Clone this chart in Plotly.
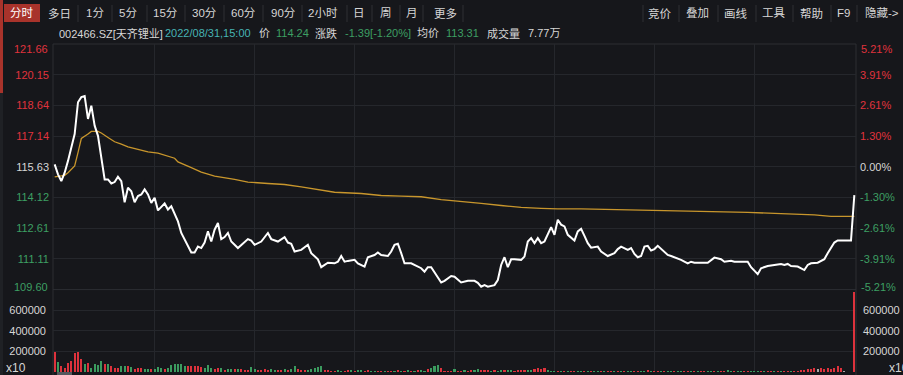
import plotly.graph_objects as go

# ---------------- data ----------------
PREV_CLOSE = 115.63
price_ticks = [109.60, 111.11, 112.61, 114.12, 115.63, 117.14, 118.64, 120.15, 121.66]
price_labels = ["109.60", "111.11", "112.61", "114.12", "115.63", "117.14", "118.64", "120.15", "121.66"]
pct_labels = ["-5.21%", "-3.91%", "-2.61%", "-1.30%", "0.00%", "1.30%", "2.61%", "3.91%", "5.21%"]
vol_ticks = [200000, 400000, 600000]
vol_labels = ["200000", "400000", "600000"]

price_min = [0, 1, 2, 3, 4, 5, 6, 7, 8, 9, 10, 11, 12, 13, 14, 15, 16, 17, 18, 19,
             20, 21, 22, 23, 24, 25, 26, 27, 28, 29, 30, 31, 33, 34, 35, 37, 38, 39, 40, 41,
             42, 43, 44, 45, 46, 47, 48, 49, 50, 51, 52, 53, 55, 56, 58, 59, 60, 62, 64, 65,
             67, 69, 70, 71, 72, 74, 76, 77, 79, 80, 82, 84, 85, 86, 87, 88, 90, 91, 93, 94,
             96, 97, 98, 100, 101, 102, 103, 104, 105, 107, 108, 109, 110, 111, 112, 113, 114, 116, 117, 119,
             120, 122, 124, 126, 127, 128, 129, 130, 132, 133, 134, 135, 136, 137, 138, 140, 141, 142, 143, 144,
             145, 146, 147, 149, 150, 151, 152, 153, 154, 156, 157, 158, 159, 160, 161, 163, 164, 166, 168, 169,
             170, 172, 173, 174, 175, 176, 177, 178, 179, 180, 181, 182, 184, 185, 187, 188, 190, 191, 192, 194,
             196, 198, 200, 201, 203, 204, 207, 208, 209, 211, 212, 214, 216, 218, 219, 220, 221, 223, 225, 226,
             227, 229, 231, 232, 234, 235, 237, 239, 240]
price_val = [115.75, 115.26, 114.93, 115.34, 115.92, 116.58, 117.24, 118.80, 119.05, 119.10,
             117.98, 118.63, 117.65, 117.15, 116.16, 115.01, 115.01, 114.81, 114.88, 115.14,
             114.93, 113.89, 114.60, 114.43, 113.89, 114.19, 114.27, 114.52, 114.27, 113.86,
             114.11, 113.49, 113.83, 113.53, 113.69, 112.95, 112.38, 112.05, 111.71, 111.42,
             111.42, 111.71, 111.64, 111.91, 112.46, 111.96, 112.54, 112.87, 112.08, 112.18,
             112.38, 111.96, 111.64, 111.80, 112.08, 112.01, 111.80, 111.96, 112.38, 112.08,
             111.96, 112.18, 111.91, 111.85, 111.47, 111.55, 111.80, 111.39, 111.09, 110.70,
             110.92, 110.89, 110.97, 111.25, 110.97, 111.01, 111.06, 110.89, 110.73, 111.19,
             111.30, 111.42, 111.30, 111.25, 111.47, 111.80, 111.85, 111.39, 110.89, 110.89,
             110.81, 110.73, 110.65, 110.48, 110.70, 110.70, 110.43, 109.95, 110.03, 110.27,
             110.23, 109.95, 110.03, 110.03, 109.93, 109.74, 109.82, 109.74, 109.82, 110.07,
             110.81, 111.19, 110.70, 111.09, 111.09, 111.06, 111.22, 111.96, 112.13, 111.88,
             112.13, 111.88, 111.96, 112.67, 112.29, 113.03, 112.79, 112.70, 112.29, 112.01,
             112.46, 112.59, 112.24, 111.88, 111.66, 111.71, 111.47, 111.25, 111.39, 111.59,
             111.71, 111.55, 111.64, 111.35, 111.19, 111.25, 111.71, 111.75, 111.52, 111.59,
             111.75, 111.59, 111.30, 111.25, 111.14, 111.06, 110.89, 110.97, 110.92, 110.92,
             110.92, 111.17, 111.09, 110.97, 111.02, 110.97, 110.97, 110.97, 110.70, 110.36,
             110.65, 110.76, 110.81, 110.86, 110.81, 110.86, 110.76, 110.73, 110.56, 110.81,
             110.89, 110.92, 111.09, 111.39, 111.91, 112.01, 112.01, 112.01, 114.24]

avg_min = [0, 3, 4, 6, 7, 8, 10, 11, 13, 14, 16, 18, 20, 22, 25, 28, 31, 34, 36, 37,
           39, 41, 44, 48, 54, 58, 64, 69, 74, 80, 84, 92, 98, 104, 110, 116, 122, 128, 134, 140,
           146, 151, 158, 167, 185, 198, 208, 218, 228, 233, 240]
avg_val = [115.14, 115.21, 115.34, 115.67, 116.33, 117.02, 117.24, 117.37, 117.37, 117.29,
           117.07, 116.86, 116.74, 116.61, 116.49, 116.36, 116.30, 116.16, 116.05, 115.87,
           115.75, 115.59, 115.37, 115.17, 115.01, 114.88, 114.81, 114.76, 114.64, 114.48,
           114.38, 114.32, 114.22, 114.19, 114.16, 114.02, 113.94, 113.83, 113.73, 113.64,
           113.59, 113.56, 113.56, 113.53, 113.48, 113.43, 113.39, 113.33, 113.27, 113.20,
           113.20]

volume = [200000, 100000, 65000, 40000, 90000, 110000, 190000, 200000, 130000, 80000,
          95000, 45000, 80000, 75000, 110000, 80000, 85000, 62000, 45000, 45000,
          62000, 62000, 62000, 50000, 30000, 40000, 40000, 30000, 30000, 30000,
          35000, 55000, 45000, 30000, 40000, 70000, 80000, 80000, 80000, 60000,
          60000, 60000, 60000, 65000, 55000, 45000, 70000, 45000, 30000, 40000,
          45000, 25000, 30000, 35000, 30000, 30000, 30000, 25000, 20000, 50000,
          35000, 25000, 25000, 30000, 25000, 35000, 25000, 20000, 20000, 30000,
          20000, 30000, 65000, 35000, 25000, 20000, 25000, 35000, 40000, 50000,
          60000, 25000, 20000, 15000, 15000, 20000, 15000, 15000, 20000, 20000,
          15000, 20000, 20000, 15000, 20000, 15000, 15000, 15000, 15000, 15000,
          15000, 12000, 15000, 20000, 15000, 15000, 20000, 15000, 15000, 25000,
          20000, 15000, 30000, 40000, 60000, 70000, 45000, 15000, 15000,
          15000, 30000, 18000, 15000, 20000, 15000, 22000, 28000, 30000, 25000, 28000, 20000,
          15000, 20000, 18000, 25000, 20000, 28000, 22000, 15000, 20000, 25000,
          28000, 25000, 20000, 35000, 40000, 30000, 38000, 25000, 15000, 12000,
          10000, 12000, 10000, 8000, 12000, 10000, 15000, 12000, 10000, 12000,
          8000, 10000, 12000, 10000, 15000, 12000, 10000, 12000, 10000, 15000,
          12000, 10000, 15000, 12000, 10000, 12000, 15000, 20000, 12000, 10000,
          15000, 12000, 10000, 12000, 10000, 18000, 12000, 10000, 15000, 12000,
          10000, 12000, 15000, 12000, 10000, 12000, 10000, 15000, 12000, 10000,
          12000, 20000, 15000, 12000, 10000, 12000, 15000, 10000, 12000, 15000,
          15000, 12000, 10000, 15000, 12000, 10000, 12000, 15000, 12000, 15000,
          12000, 10000, 15000, 20000, 25000,
          35000, 30000, 40000, 35000, 45000, 30000, 40000, 35000, 45000, 60000, 40000, 8000,
          0, 0, 780000]
# trade direction per minute: r = up, g = down, w = flat
vol_dir = ("rgrrrrrrrg" "rggggrgrrr" "ggrgrrrggr" "gggrgggggg" "rrrrrgggrr"
           "grggrgrrrg" "grrrrggrrg" "rggrrrgggg" "grrrrggrrg" "rggrrggrrg"
           "rrgrgrgrgr" "ggrgggrrr"
           "rgrrgrrggrrr" "grggrggrrrrggrrrrggg" "rgrgrrggrgrggrgrrgrg"
           "rggrrggrgrrgrggrggrr" "grgrrggrgrrggrggrrgg"
           "grgrrgrgrrgrrrrrrrwrrrrrrrw" "wwr")

# ---------------- layout helpers ----------------
W, H = 903, 375
ML, MR, MT, MB = 53, 47, 44, 3
PW = W - ML - MR
PH = H - MT - MB


def fx(px):
    return (px - ML) / PW


def fy(py):
    return (H - MB - py) / PH


SPLIT = fy(289.6)
BG = "#16171b"
GRID = "#25272c"
BORDER = "#2c2e33"
RED = "#e0333d"
GREEN = "#3d9f63"
WHITE = "#d6d6d6"
GOLD = "#c8962c"
TEAL = "#46b4b4"
FONT = "Liberation Sans, Arial, Noto Sans CJK SC, sans-serif"


def col(p):
    if p > PREV_CLOSE + 1e-9:
        return RED
    if p < PREV_CLOSE - 1e-9:
        return GREEN
    return WHITE


left_text = []
right_text = []
for p, lab, plab in zip(price_ticks, price_labels, pct_labels):
    if p in (price_ticks[0], price_ticks[-1]):
        left_text.append("")
        right_text.append("")
    else:
        left_text.append(f"<span style='color:{col(p)}'>{lab}</span>")
        right_text.append(f"<span style='color:{col(p)}'>{plab}</span>")
pct_tickvals = [(p / PREV_CLOSE - 1) * 100 for p in price_ticks]
pct_range = [(price_ticks[0] / PREV_CLOSE - 1) * 100, (price_ticks[-1] / PREV_CLOSE - 1) * 100]

dir_color = {"r": "#dd323c", "g": "#3b9b5f", "w": "#a8a8a8"}
bar_colors = [dir_color[c] for c in vol_dir]

fig = go.Figure()
fig.add_trace(go.Scatter(x=avg_min, y=avg_val, mode="lines", line=dict(color=GOLD, width=1.3),
                         xaxis="x", yaxis="y", hoverinfo="skip", showlegend=False))
fig.add_trace(go.Scatter(x=price_min, y=price_val, mode="lines", line=dict(color="#ffffff", width=2),
                         xaxis="x", yaxis="y", hoverinfo="skip", showlegend=False))
fig.add_trace(go.Scatter(x=price_min, y=[(p / PREV_CLOSE - 1) * 100 for p in price_val], mode="lines",
                         line=dict(color="rgba(0,0,0,0)", width=0), xaxis="x", yaxis="y3",
                         hoverinfo="skip", showlegend=False))
fig.add_trace(go.Bar(x=list(range(len(volume))), y=volume, marker=dict(color=bar_colors, line=dict(width=0)),
                     width=0.62, xaxis="x2", yaxis="y2", hoverinfo="skip", showlegend=False))
fig.add_trace(go.Scatter(x=list(range(len(volume))), y=volume, mode="lines",
                         line=dict(color="rgba(0,0,0,0)", width=0), xaxis="x2", yaxis="y4",
                         hoverinfo="skip", showlegend=False))

xcommon = dict(range=[-0.5, 240.5], tickvals=[30, 60, 90, 120, 150, 180, 210], showticklabels=False,
               showgrid=True, gridcolor=GRID, gridwidth=1, zeroline=False, showline=False, ticks="",
               fixedrange=True)

annotations = []


def txt(x, y, s, color=WHITE, size=11, xanchor="left"):
    annotations.append(dict(xref="paper", yref="paper", x=fx(x), y=fy(y), text=s, showarrow=False,
                            xanchor=xanchor, yanchor="middle", font=dict(color=color, size=size, family=FONT)))


# axis end labels
txt(50, 49, price_labels[-1], RED, xanchor="right")
txt(50, 287, price_labels[0], GREEN, xanchor="right")
txt(859, 49, pct_labels[-1], RED)
txt(859, 287, pct_labels[0], GREEN)
txt(4, 368, "x10", WHITE, 12)
txt(887, 368, "x10", WHITE, 12)

# toolbar
tool_left = [(22, "分时"), (59, "多日"), (95, "1分"), (128, "5分"), (165, "15分"), (204, "30分"),
             (243, "60分"), (283, "90分"), (323, "2小时"), (359, "日"), (386, "周"), (412, "月"), (445, "更多")]
tool_right = [(660, "竞价"), (697, "叠加"), (736, "画线"), (774, "工具"), (811, "帮助"), (843, "F9"), (882, "隐藏->")]
for x, s in tool_left + tool_right:
    txt(x, 13, s, "#ffffff" if s == "分时" else WHITE, 11.5, "center")

# info line
info = [(57, "002466.SZ[天齐锂业]", WHITE), (163, "2022/08/31,15:00", TEAL), (257, "价", WHITE),
        (274, "114.24", GREEN), (313, "涨跌", WHITE), (343, "-1.39[-1.20%]", GREEN), (415, "均价", WHITE),
        (444, "113.31", GREEN), (485, "成交量", WHITE), (526, "7.77万", WHITE)]
for x, s, c in info:
    txt(x, 33, s, c, 11)

shapes = []


def rect(x0, y0, x1, y1, color, layer="below"):
    shapes.append(dict(type="rect", xref="paper", yref="paper", x0=fx(x0), x1=fx(x1), y0=fy(y1), y1=fy(y0),
                       fillcolor=color, line=dict(width=0), layer=layer))


def line(x0, y0, x1, y1, color, width=1, layer="below"):
    shapes.append(dict(type="line", xref="paper", yref="paper", x0=fx(x0), x1=fx(x1), y0=fy(y0), y1=fy(y1),
                       line=dict(color=color, width=width), layer=layer))


rect(0, 0, 3, 93, "#a8332b")
rect(0, 93, 3, 375, "#1f2125")
rect(4, 4, 40, 22, "#a8332b")
for x in [78, 112, 147, 185, 224, 263, 302, 347, 372, 400, 423, 463, 643, 679, 718, 756, 793, 831, 857]:
    line(x, 5, x, 22, "#2e3035")
# plot frame
line(53, 44, 856, 44, BORDER)
line(53, 44, 53, 375, BORDER)
line(856, 44, 856, 375, BORDER)
line(53, 289.6, 856, 289.6, BORDER)
rect(57, 372, 72, 375, "#55585e")

fig.update_layout(
    width=W, height=H, margin=dict(l=ML, r=MR, t=MT, b=MB),
    paper_bgcolor=BG, plot_bgcolor=BG, showlegend=False, bargap=0,
    font=dict(family=FONT, size=11, color=WHITE),
    xaxis=dict(domain=[0, 1], anchor="y", **xcommon),
    xaxis2=dict(domain=[0, 1], anchor="y2", matches="x", **xcommon),
    yaxis=dict(domain=[SPLIT, 1], range=[price_ticks[0], price_ticks[-1]], anchor="x",
               tickvals=price_ticks, ticktext=left_text, showgrid=True, gridcolor=GRID, zeroline=False,
               showline=False, ticks="", ticklabelstandoff=3, tickfont=dict(size=11, color=WHITE),
               fixedrange=True),
    yaxis3=dict(overlaying="y", side="right", anchor="x", range=pct_range, tickvals=pct_tickvals,
                ticktext=right_text, showgrid=False, zeroline=False, showline=False, ticks="",
                ticklabelstandoff=3, tickfont=dict(size=11, color=WHITE), fixedrange=True),
    yaxis2=dict(domain=[0, SPLIT], range=[0, 800000], anchor="x2", tickvals=vol_ticks, ticktext=vol_labels,
                showgrid=True, gridcolor=GRID, zeroline=False, showline=False, ticks="",
                ticklabelstandoff=6, tickfont=dict(size=11, color=WHITE), fixedrange=True),
    yaxis4=dict(overlaying="y2", side="right", anchor="x2", range=[0, 800000], tickvals=vol_ticks,
                ticktext=vol_labels, showgrid=False, zeroline=False, showline=False, ticks="",
                ticklabelstandoff=6, tickfont=dict(size=11, color=WHITE), fixedrange=True),
    annotations=annotations, shapes=shapes,
)

fig.write_html("out.html", config={"displayModeBar": False},
               post_script="document.body.style.margin='0';document.body.style.background='" + BG + "';")
